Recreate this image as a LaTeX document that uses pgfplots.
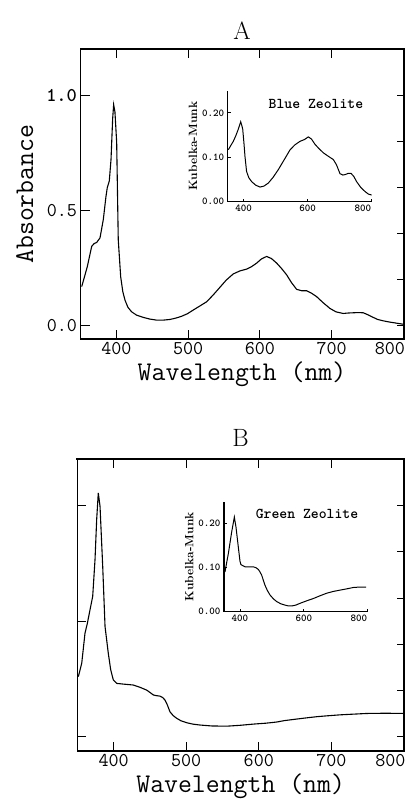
\documentclass[border=0pt]{standalone}
\usepackage{pgfplots}
\pgfplotsset{compat=1.18}
\pgfplotstableread{
x y
351.7 0.168
355.5 0.21
359.5 0.255
365.6 0.343
369.0 0.355
372.6 0.36
377.2 0.38
381.8 0.46
385.5 0.56
387.3 0.598
390.1 0.627
392.5 0.72
394.8 0.898
396.2 0.959
398.0 0.927
400.4 0.795
402.6 0.372
406.0 0.21
409.0 0.145
412.0 0.109
416.0 0.078
421.3 0.058
428.0 0.044
437.5 0.034
446.0 0.027
456.1 0.022
465.0 0.022
474.7 0.025
483.0 0.031
491.0 0.039
499.0 0.050
507.1 0.066
516.0 0.083
525.8 0.102
535.0 0.132
544.3 0.165
553.0 0.196
562.8 0.223
572.0 0.236
581.5 0.244
588.0 0.254
595.4 0.27
602.0 0.288
609.3 0.299
616.0 0.290
623.3 0.27
630.0 0.247
637.2 0.219
644.0 0.185
651.1 0.156
658.0 0.150
665.0 0.15
672.0 0.139
679.0 0.124
688.0 0.098
697.5 0.073
706.0 0.058
716.0 0.051
723.0 0.053
730.0 0.054
737.0 0.055
743.9 0.054
750.0 0.046
757.8 0.034
764.0 0.025
771.7 0.019
780.0 0.014
788.0 0.010
800.0 0.004
}\dataA
\pgfplotstableread{
x y
351.4 0.26
356.1 0.318
360.6 0.448
363.8 0.49
367.5 0.549
371.2 0.607
374.4 0.766
376.7 0.94
378.9 1.055
381.3 0.997
385.0 0.737
388.2 0.477
392.7 0.361
396.0 0.290
399.6 0.246
404.3 0.231
413.4 0.228
427.1 0.224
436.4 0.214
445.6 0.202
450.0 0.192
454.7 0.181
459.0 0.178
463.9 0.176
467.5 0.170
470.8 0.159
474.0 0.138
477.7 0.108
482.0 0.092
486.9 0.080
493.0 0.069
500.7 0.061
509.0 0.055
519.0 0.051
535.0 0.047
555.8 0.046
575.0 0.050
592.4 0.055
610.0 0.059
624.7 0.064
635.0 0.070
647.5 0.075
663.0 0.081
679.7 0.087
695.0 0.091
711.8 0.095
730.0 0.098
748.6 0.101
775.0 0.102
800.0 0.101
}\dataB
\pgfplotstableread{
x y
352 0.117
360 0.127
367.5 0.136
375 0.148
383 0.163
387 0.172
390.6 0.18
394 0.172
397 0.163
401 0.13
404 0.102
409 0.068
416 0.054
425 0.045
438 0.037
451 0.033
463 0.035
477 0.042
492 0.055
508 0.072
527 0.095
545 0.117
560 0.128
576 0.136
590 0.14
602 0.146
612 0.141
623 0.129
636 0.119
649 0.11
665 0.102
680 0.095
690 0.083
701 0.063
710 0.060
717 0.061
727 0.064
735 0.064
744 0.057
753 0.045
766 0.032
779 0.023
790 0.017
800 0.015
}\insetA
\pgfplotstableread{
x y
353 0.09
358 0.11
363.6 0.132
374 0.181
382.4 0.215
387.6 0.192
394.8 0.147
400 0.115
403 0.107
415.8 0.102
430 0.102
441.8 0.102
450 0.100
457.5 0.096
463 0.090
468 0.083
473 0.072
478.4 0.060
486 0.048
494 0.038
505 0.029
515 0.023
528 0.018
541 0.015
552 0.013
562 0.013
575 0.015
588 0.019
610 0.025
630 0.030
650 0.036
671.6 0.042
692 0.046
713 0.049
735 0.052
755 0.055
775 0.056
795 0.056
}\insetB
\pgfplotsset{
 mainax/.style={scale only axis, anchor=south west,
  xmin=350, xmax=800, ymin=-0.06, ymax=1.2,
  xtick={400,500,600,700}, xticklabels={400,500,600,700},
  extra x ticks={800}, extra x tick labels={800},
  extra x tick style={major tick length=0pt, xticklabel style={anchor=north east, xshift=5pt}},
  ytick={0,0.5,1}, xtick pos=both, ytick pos=left,
  tick align=inside, major tick length=9pt,
  axis line style={line width=1.6pt},
  tick style={line width=1pt, black},
  ticklabel style={font=\ttfamily\fontsize{19.5}{20}\selectfont},
  label style={font=\ttfamily\fontsize{27}{28}\selectfont},
  title style={font=\fontsize{25}{26}\selectfont},
  xlabel={Wavelength (nm)}},
 rightax/.style={scale only axis, anchor=south west,
  xmin=350, xmax=800, ymin=-0.06, ymax=1.2,
  axis x line=none, axis y line*=right,
  ytick={0,0.2,0.4,0.6,0.8,1.0}, yticklabels={},
  tick align=inside, major tick length=7pt,
  y axis line style={draw=none}, tick style={line width=1pt, black}},
 inset/.style={scale only axis, anchor=south west,
  xmin=350, xmax=800, ymin=0, ymax=0.25,
  axis lines*=left, axis line style={-, line width=1.1pt},
  xtick={400,600}, xticklabels={400,600},
  extra x ticks={800}, extra x tick labels={800},
  extra x tick style={xticklabel style={anchor=north east, xshift=3pt}},
  ytick={0,0.1,0.2}, yticklabels={0.00,0.10,0.20},
  tick align=inside, major tick length=3pt,
  tick style={line width=0.8pt, black},
  ticklabel style={font=\ttfamily\bfseries\fontsize{10.5}{11}\selectfont},
  ylabel={Kubelka-Munk},
  ylabel style={font=\bfseries\fontsize{12}{13}\selectfont, yshift=-2pt}},
 curve/.style={black, line width=1.1pt, no markers}
}
\begin{document}
\begin{tikzpicture}
\useasboundingbox (0pt,0pt) rectangle (412pt,806pt);
% Panel A
\begin{axis}[mainax, at={(80.5pt,467pt)}, width=323pt, height=289.7pt,
  yticklabels={0.0,0.5,\textbf{1.0}}, ylabel={Absorbance}, ylabel shift=6pt, title={A}]
\addplot[curve] table[x=x,y=y]{\dataA};
\end{axis}
\begin{axis}[rightax, at={(80.5pt,467pt)}, width=323pt, height=289.7pt]
\end{axis}
\begin{axis}[inset, at={(227.7pt,604.3pt)}, width=144pt, height=111pt]
\addplot[curve, line width=1pt] table[x=x,y=y]{\insetA};
\node[font=\ttfamily\bfseries\fontsize{15}{16}\selectfont] at (rel axis cs:0.613,0.877) {Blue Zeolite};
\end{axis}
% Panel B
\begin{axis}[mainax, at={(77.3pt,55.3pt)}, width=326.7pt, height=291.4pt,
  yticklabels={}, title={B}, title style={yshift=3pt}]
\addplot[curve] table[x=x,y=y]{\dataB};
\end{axis}
\begin{axis}[rightax, at={(77.3pt,55.3pt)}, width=326.7pt, height=291.4pt]
\end{axis}
\begin{axis}[inset, at={(224pt,194.3pt)}, width=143.7pt, height=110pt]
\addplot[curve, line width=1pt] table[x=x,y=y]{\insetB};
\node[font=\ttfamily\bfseries\fontsize{15}{16}\selectfont] at (rel axis cs:0.578,0.888) {Green Zeolite};
\end{axis}
% frame lines as filled strips
\fill[black] (79.5pt,755.7pt) rectangle (404.5pt,757.7pt);
\fill[black] (402.5pt,466pt) rectangle (404.5pt,757.7pt);
\fill[black] (76.3pt,345.7pt) rectangle (405pt,347.7pt);
\fill[black] (403pt,54.3pt) rectangle (405pt,347.7pt);
\end{tikzpicture}
\end{document}
